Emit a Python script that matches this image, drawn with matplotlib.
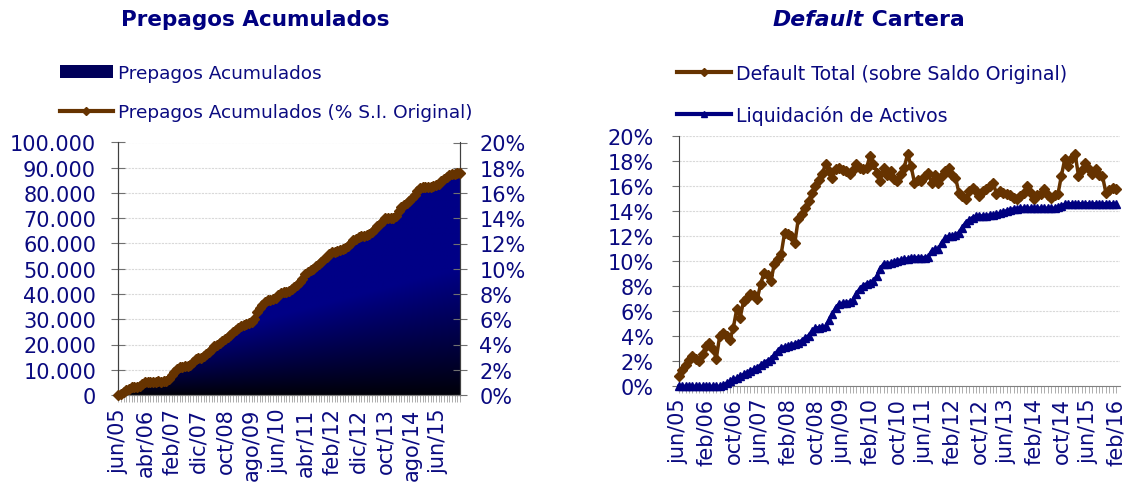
import numpy as np
import matplotlib
matplotlib.use('Agg')
import matplotlib.pyplot as plt
from matplotlib.lines import Line2D
from matplotlib.patches import Rectangle
from matplotlib.ticker import FuncFormatter, FixedLocator
from matplotlib.offsetbox import TextArea, HPacker, AnchoredOffsetbox

plt.rcParams['font.family'] = ['DejaVu Sans']

# ---------------- data ----------------
MESES = ['ene', 'feb', 'mar', 'abr', 'may', 'jun', 'jul', 'ago', 'sep', 'oct', 'nov', 'dic']
START_MONTH, START_YEAR, N_MONTHS = 5, 2005, 129   # jun/05 .. feb/16
months = []
_m, _y = START_MONTH, START_YEAR
for _ in range(N_MONTHS):
    months.append(f"{MESES[_m]}/{_y % 100:02d}")
    _m += 1
    if _m == 12:
        _m, _y = 0, _y + 1

prepagos_acum = [
    0, 500, 1200, 1800, 2500, 3000, 3100, 3300, 3600, 4300,
    5000, 5200, 5300, 5300, 5300, 5400, 5300, 5400, 5500, 6500,
    8000, 9200, 10300, 11000, 11200, 11300, 11500, 12000, 13200, 14300,
    14500, 14600, 15300, 16200, 17000, 18200, 19500, 20000, 20600, 21200,
    22000, 23000, 23800, 24800, 25600, 26400, 27300, 27900, 28200, 28600,
    29000, 30000, 32800, 34500, 35800, 36800, 37500, 37800, 38200, 38600,
    39500, 40500, 40800, 40900, 41000, 41800, 42800, 43700, 44600, 46000,
    47800, 48700, 49400, 50000, 51000, 52000, 52800, 53800, 54800, 55900,
    56500, 56800, 57000, 57300, 57800, 58400, 59200, 60200, 61200, 61900,
    62500, 62900, 63100, 63200, 63600, 64500, 65800, 66900, 67900, 69000,
    70000, 70200, 70000, 70100, 71000, 73000, 74400, 75300, 76100, 77000,
    78000, 79300, 80600, 82000, 82400, 82400, 82500, 82400, 82600, 83000,
    83700, 84600, 85600, 86400, 87000, 87500, 87700, 87900, 88000]

prepagos_pct = [
    0.00, 0.10, 0.24, 0.36, 0.50, 0.60, 0.62, 0.66, 0.72, 0.86,
    1.00, 1.04, 1.06, 1.06, 1.06, 1.08, 1.06, 1.08, 1.10, 1.30,
    1.60, 1.84, 2.06, 2.20, 2.24, 2.26, 2.30, 2.40, 2.64, 2.86,
    2.90, 2.92, 3.06, 3.24, 3.40, 3.64, 3.90, 4.00, 4.12, 4.24,
    4.40, 4.60, 4.76, 4.96, 5.12, 5.28, 5.46, 5.58, 5.64, 5.72,
    5.80, 6.00, 6.56, 6.90, 7.16, 7.36, 7.50, 7.56, 7.64, 7.72,
    7.90, 8.10, 8.16, 8.18, 8.20, 8.36, 8.56, 8.74, 8.92, 9.20,
    9.56, 9.74, 9.88, 10.00, 10.20, 10.40, 10.56, 10.76, 10.96, 11.18,
    11.30, 11.36, 11.40, 11.46, 11.56, 11.68, 11.84, 12.04, 12.24, 12.38,
    12.50, 12.58, 12.62, 12.64, 12.72, 12.90, 13.16, 13.38, 13.58, 13.80,
    14.00, 14.04, 14.00, 14.02, 14.20, 14.60, 14.88, 15.06, 15.22, 15.40,
    15.60, 15.86, 16.12, 16.40, 16.48, 16.48, 16.50, 16.48, 16.52, 16.60,
    16.74, 16.92, 17.12, 17.28, 17.40, 17.50, 17.54, 17.58, 17.60]

default_total = [
    0.85, 1.3, 1.7, 2.1, 2.45, 2.2, 2.05, 2.6, 3.2, 3.5,
    3.0, 2.2, 4.05, 4.3, 4.0, 3.7, 4.7, 6.2, 5.5, 6.85,
    7.1, 7.4, 7.3, 7.0, 8.2, 9.1, 8.9, 8.45, 9.8, 10.2,
    10.6, 12.3, 12.2, 12.0, 11.5, 13.4, 13.8, 14.3, 14.8, 15.5,
    16.0, 16.5, 17.0, 17.8, 17.2, 16.7, 17.4, 17.5, 17.3, 17.25,
    17.0, 17.3, 17.8, 17.5, 17.4, 17.5, 18.45, 17.8, 17.1, 16.45,
    17.5, 16.9, 17.25, 16.6, 16.45, 17.0, 17.5, 18.6, 17.6, 16.3,
    16.5, 16.45, 16.8, 17.1, 16.3, 16.9, 16.3, 16.85, 17.2, 17.5,
    16.9, 16.7, 15.5, 15.25, 15.0, 15.6, 15.9, 15.65, 15.25, 15.6,
    15.8, 16.0, 16.3, 15.4, 15.65, 15.5, 15.4, 15.3, 15.1, 15.0,
    15.25, 15.5, 16.05, 15.5, 15.0, 15.3, 15.4, 15.8, 15.3, 15.1,
    15.3, 15.4, 16.85, 18.2, 17.65, 18.3, 18.6, 16.85, 17.3, 17.9,
    17.4, 17.0, 17.4, 16.9, 16.85, 15.5, 15.7, 15.9, 15.8]

liquidacion = [
    0.0, 0.0, 0.0, 0.0, 0.0, 0.0, 0.0, 0.0, 0.0, 0.0,
    0.0, 0.0, 0.0, 0.1, 0.25, 0.4, 0.55, 0.65, 0.8, 0.95,
    1.1, 1.25, 1.35, 1.5, 1.7, 1.9, 2.05, 2.2, 2.5, 2.85,
    3.1, 3.15, 3.2, 3.3, 3.4, 3.5, 3.65, 3.85, 4.05, 4.4,
    4.65, 4.7, 4.75, 4.8, 5.3, 5.8, 6.3, 6.6, 6.65, 6.7,
    6.75, 6.9, 7.4, 7.8, 8.05, 8.2, 8.3, 8.45, 8.8, 9.4,
    9.8, 9.8, 9.85, 9.95, 10.05, 10.1, 10.15, 10.2, 10.25, 10.3,
    10.3, 10.3, 10.3, 10.35, 10.8, 11.0, 11.0, 11.5, 11.85, 12.0,
    12.05, 12.1, 12.3, 12.7, 13.1, 13.3, 13.5, 13.6, 13.6, 13.65,
    13.65, 13.7, 13.7, 13.75, 13.85, 13.95, 14.05, 14.1, 14.2, 14.2,
    14.25, 14.25, 14.25, 14.25, 14.25, 14.25, 14.25, 14.25, 14.25, 14.25,
    14.25, 14.35, 14.45, 14.55, 14.6, 14.6, 14.6, 14.6, 14.6, 14.6,
    14.6, 14.6, 14.6, 14.6, 14.6, 14.6, 14.6, 14.6, 14.6]

left_title = 'Prepagos Acumulados'
left_labels = ['Prepagos Acumulados', 'Prepagos Acumulados (% S.I. Original)']
right_title = ('Default', ' Cartera')
right_labels = ['Default Total (sobre Saldo Original)', 'Liquidación de Activos']

# ---------------- style ----------------
NAVY = '#000080'
BROWN = '#663300'
TEXT = '#0a0a80'
GRID = '#d9d9d9'
W, H = 1127, 485

fig = plt.figure(figsize=(W / 100, H / 100), dpi=100)
x = np.arange(len(months))


def fx(px):
    return px / W


def fy(py):
    return 1 - py / H


# ---------------- left chart ----------------
axL = fig.add_axes([fx(118.3), fy(396), (460 - 118.3) / W, (396 - 143.5) / H])
axL.set_axisbelow(True)

# gradient area
nx, ny = 400, 300
gx = np.linspace(0, len(months) - 1, nx)
gy = np.linspace(0, 100000, ny)
GX, GY = np.meshgrid(gx, gy)
T = 15000 + 35000 * GX / (len(months) - 1)
b = np.clip(GY / T, 0, 1) ** 0.9
img = np.zeros((ny, nx, 3))
img[..., 2] = (8 + 126 * b) / 255
im = axL.imshow(img, origin='lower', extent=[0, len(months) - 1, 0, 100000],
                aspect='auto', zorder=1, interpolation='bilinear')
poly = axL.fill_between(x, prepagos_acum, 0, facecolor='none', edgecolor='none')
im.set_clip_path(poly.get_paths()[0], transform=axL.transData)
axL.set_xlim(0, len(months) - 1)
axL.set_ylim(0, 100000)

axL.yaxis.set_major_locator(FixedLocator(np.arange(0, 100001, 10000)))
axL.yaxis.set_major_formatter(FuncFormatter(lambda v, p: f"{int(v):,}".replace(',', '.')))
axL.yaxis.grid(True, color=GRID, linestyle=(0, (2, 1)), lw=0.8)
axL.tick_params(axis='y', direction='inout', length=10, width=0.8, color='#707070',
                labelsize=15, labelcolor=TEXT, pad=11)

axL2 = axL.twinx()
axL2.set_ylim(0, 20)
axL2.set_xlim(0, len(months) - 1)
axL2.yaxis.set_major_locator(FixedLocator(np.arange(0, 21, 2)))
axL2.yaxis.set_major_formatter(FuncFormatter(lambda v, p: f"{int(round(v))}%"))
axL2.tick_params(axis='y', direction='inout', length=10, width=0.8, color='#707070',
                 labelsize=15, labelcolor=TEXT, pad=9)
axL2.plot(x, prepagos_pct, color=BROWN, lw=3, marker='D', ms=5, mec=BROWN, mfc=BROWN,
          zorder=3, clip_on=False)

for a in (axL, axL2):
    a.spines['top'].set_visible(False)
    a.spines['left'].set_color('#404040')
    a.spines['right'].set_color('#404040')
    a.spines['bottom'].set_color('#808080')
axL.xaxis.set_major_locator(FixedLocator(x))
axL.set_xticklabels([lab if i % 10 == 0 else '' for i, lab in enumerate(months)],
                    rotation=90)
axL.tick_params(axis='x', direction='out', length=5, width=0.6, color='#a0a0a0',
                labelsize=15, labelcolor=TEXT, pad=4)
axL2.tick_params(axis='x', bottom=False, labelbottom=False)

fig.text(fx(255), fy(20), left_title, ha='center', va='center', fontsize=15.5,
         fontweight='bold', color=NAVY)

hL = [Rectangle((0, 0), 1, 1, facecolor='#00005a', edgecolor='none'),
      Line2D([], [], color=BROWN, lw=3, marker='D', ms=4)]
fig.legend(hL, left_labels, loc='upper left', bbox_to_anchor=(fx(60), fy(65)),
           frameon=False, borderpad=0, borderaxespad=0, handlelength=2.85,
           handletextpad=0.3, labelspacing=1.15, fontsize=13.3, labelcolor=TEXT)

# ---------------- right chart ----------------
axR = fig.add_axes([fx(678.7), fy(387.3), (1119.5 - 678.7) / W, (387.3 - 137.3) / H])
axR.set_axisbelow(True)
axR.set_xlim(0, len(months))
axR.set_ylim(0, 20)
axR.yaxis.set_major_locator(FixedLocator(np.arange(0, 21, 2)))
axR.yaxis.set_major_formatter(FuncFormatter(lambda v, p: f"{int(round(v))}%"))
axR.yaxis.grid(True, color=GRID, linestyle=(0, (2, 1)), lw=0.8)
axR.tick_params(axis='y', direction='out', length=5, width=0.8, color='#707070',
                labelsize=15, labelcolor=TEXT, pad=13)
axR.xaxis.set_major_locator(FixedLocator(x))
axR.set_xticklabels([lab if i % 8 == 0 else '' for i, lab in enumerate(months)],
                    rotation=90)
axR.tick_params(axis='x', direction='out', length=5, width=0.6, color='#a0a0a0',
                labelsize=15, labelcolor=TEXT, pad=3)
for s in ('top', 'right'):
    axR.spines[s].set_visible(False)
axR.spines['left'].set_color('#404040')
axR.spines['bottom'].set_color('#808080')

axR.plot(x, default_total, color=BROWN, lw=2.5, marker='D', ms=5.5, mec=BROWN, mfc=BROWN,
         zorder=3, clip_on=False)
axR.plot(x, liquidacion, color=NAVY, lw=2.5, marker='^', ms=5.5, mec=NAVY, mfc=NAVY,
         zorder=3, clip_on=False)

ta1 = TextArea(right_title[0], textprops=dict(fontsize=15.8, fontweight='bold',
                                              fontstyle='italic', color=NAVY))
ta2 = TextArea(right_title[1], textprops=dict(fontsize=15.8, fontweight='bold', color=NAVY))
box = HPacker(children=[ta1, ta2], align='baseline', pad=0, sep=0)
ab = AnchoredOffsetbox(loc='center', child=box, bbox_to_anchor=(fx(869), fy(20)),
                       bbox_transform=fig.transFigure, frameon=False, pad=0, borderpad=0)
fig.add_artist(ab)

hR = [Line2D([], [], color=BROWN, lw=3, marker='D', ms=4),
      Line2D([], [], color=NAVY, lw=3, marker='^', ms=5)]
fig.legend(hR, right_labels, loc='upper left', bbox_to_anchor=(fx(677), fy(65)),
           frameon=False, borderpad=0, borderaxespad=0, handlelength=2.85,
           handletextpad=0.3, labelspacing=1.15, fontsize=13.6, labelcolor=TEXT)

fig.savefig('out.png', dpi=100)
